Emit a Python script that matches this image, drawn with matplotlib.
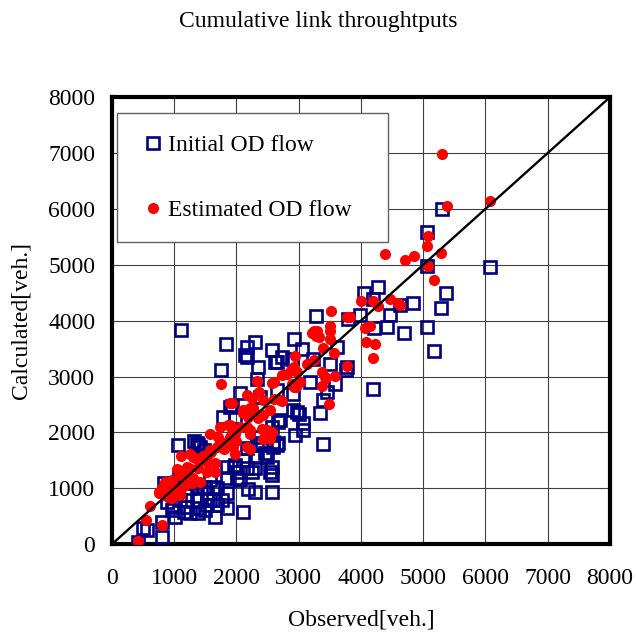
import matplotlib
matplotlib.use('Agg')
import matplotlib.pyplot as plt

plt.rcParams['font.family'] = ['Liberation Serif', 'DejaVu Serif']

# Estimated OD flow (red dots): observed vs calculated
est_obs = [5310, 6070, 5380, 5070, 5060, 5280, 4390, 4700, 4850, 5070,
           5170, 4460, 4620, 4000, 4190, 4280, 3515, 3770, 3825, 3500,
           3500, 3240, 3290, 3215, 3280, 3500, 4070, 4140, 4080, 4220,
           4200, 3390, 3570, 2940, 3240, 3130, 2930, 2980, 2730, 2810,
           3370, 3440, 3580, 3770, 3370, 2890, 3020, 2930, 3480, 1755,
           2330, 2570, 2365, 2170, 2250, 2430, 2600, 2730, 1930, 2220,
           2300, 2110, 2430, 2540, 1870, 1930, 1980, 2170, 2220, 2410,
           2490, 2570, 2430, 2540, 1710, 1740, 1690, 1850, 1950, 1980,
           2170, 2220, 1590, 1520, 1420, 1360, 1310, 1110, 1550, 1660,
           1660, 1520, 1390, 1230, 1040, 1100, 1310, 1420, 1280, 860,
           960, 800, 750, 880, 1100, 960, 615, 550, 800, 420,
           3320, 2870, 3420, 2600, 2700, 4600, 1900, 2110, 2270, 2190,
           2350, 1740, 1900, 2060, 2220, 1580, 1900, 1200, 1470, 1260,
           1580, 830, 750, 1000, 1150, 1800, 2000, 900, 1200, 2960]
est_calc = [6990, 6150, 6050, 5520, 5330, 5220, 5190, 5080, 5160, 4980,
            4720, 4390, 4280, 4350, 4350, 4260, 4170, 4060, 4060, 3900,
            3810, 3810, 3810, 3780, 3720, 3680, 3860, 3900, 3620, 3590,
            3340, 3510, 3420, 3360, 3300, 3230, 3170, 3090, 3020, 3050,
            3080, 2975, 3010, 3180, 2830, 2870, 2900, 2810, 2500, 2860,
            2920, 2890, 2725, 2670, 2610, 2580, 2590, 2560, 2530, 2430,
            2340, 2340, 2310, 2400, 2130, 2070, 1980, 2100, 1980, 2070,
            2040, 2010, 1890, 1890, 1920, 1830, 1740, 1830, 1740, 1620,
            1740, 1710, 1650, 1580, 1500, 1530, 1560, 1580, 1450, 1450,
            1300, 1300, 1360, 1370, 1340, 1240, 1180, 1120, 1090, 1120,
            1150, 1000, 910, 910, 880, 820, 690, 434, 345, 60,
            3710, 3110, 2990, 2900, 2580, 4310, 2520, 2400, 2430, 2280,
            2250, 2100, 2130, 2100, 2040, 1980, 1920, 1390, 1570, 1620,
            1680, 910, 940, 1000, 1050, 1700, 1850, 850, 1200, 2820]

# Initial OD flow (blue squares): observed vs calculated
init_obs = [5300, 5055, 5066, 6072, 4280, 4050, 4200, 4842, 5366, 5280,
            4628, 4467, 3986, 3799, 3280, 4414, 4211, 5056, 4697, 5173,
            4200, 1113, 1835, 2300, 2167, 2140, 2579, 2932, 3050, 2648,
            2354, 1749, 2889, 3237, 3504, 3622, 3772, 3761, 2327, 3183,
            3584, 2916, 3450, 3398, 3344, 2905, 3013, 2702, 3077, 2942,
            3387, 1926, 2568, 2595, 2595, 2461, 2568, 2568, 2113, 2167,
            1980, 2300, 2193, 2300, 2568, 2113, 1846, 1846, 1658, 1685,
            1380, 1059, 1311, 1418, 1070, 829, 909, 1204, 1364, 1525,
            1685, 1204, 963, 1017, 802, 562, 802, 420, 1525, 1578,
            1846, 1846, 2006, 2060, 2167, 2327, 2380, 2327, 2488, 2648,
            1766, 1471, 1257, 1097, 883, 1150, 1391, 2674, 2407, 2247,
            1364, 1471, 1953, 2006, 936, 1043, 1364, 1631, 989, 1525,
            1631, 1250, 1500, 507, 1390, 2541, 2674, 3072, 2969, 2167,
            2621, 2059, 2380, 2648, 1899, 1980, 1792, 2728]
init_calc = [6000, 5580, 4986, 4968, 4611, 4498, 4391, 4320, 4498, 4224,
             4272, 4105, 4105, 4034, 4076, 3885, 3873, 3885, 3778, 3457,
             2785, 3838, 3576, 3618, 3528, 3380, 3469, 3665, 3499, 3261,
             3171, 3124, 3320, 3320, 3231, 3528, 3171, 3124, 2963, 2904,
             2874, 2695, 2725, 2576, 2350, 2398, 2338, 2231, 2172, 1952,
             1785, 2469, 2100, 1833, 1743, 1624, 1386, 1238, 1505, 1357,
             1416, 1357, 982, 940, 928, 577, 910, 643, 494, 702,
             553, 1773, 1845, 1743, 1238, 1089, 970, 881, 791, 910,
             1000, 672, 613, 494, 405, 256, 137, 40, 702, 1148,
             1178, 1386, 1297, 1148, 1714, 1773, 1922, 1565, 1565, 1773,
             791, 1029, 1000, 791, 762, 583, 643, 2190, 1804, 1297,
             1809, 1684, 1386, 1178, 910, 970, 1029, 1029, 672, 791,
             791, 553, 612, 286, 1773, 1297, 1804, 2041, 2368, 3350,
             3261, 2697, 2636, 2756, 2457, 2279, 2279, 3350]

ticks = [0, 1000, 2000, 3000, 4000, 5000, 6000, 7000, 8000]

fig = plt.figure(figsize=(6.36, 6.35), dpi=100)
ax = fig.add_axes([0.176, 0.143, 0.783, 0.704])

ax.plot(init_obs, init_calc, linestyle='none', marker='s', markersize=9.2,
        markerfacecolor='none', markeredgecolor='#000080', markeredgewidth=1.9,
        label='Initial OD flow', zorder=3)
ax.plot(est_obs, est_calc, linestyle='none', marker='o', markersize=8,
        markerfacecolor='#ff0000', markeredgecolor='none',
        label='Estimated OD flow', zorder=4)
ax.plot([0, 8000], [0, 8000], color='black', linewidth=1.7, zorder=5)

ax.set_xlim(0, 8000)
ax.set_ylim(0, 8000)
ax.set_xticks(ticks)
ax.set_yticks(ticks)
ax.grid(True, color='#404040', linewidth=0.8)
ax.set_axisbelow(True)
ax.tick_params(length=0, labelsize=17)
ax.tick_params(axis='x', pad=17)
ax.tick_params(axis='y', pad=12)
for s in ax.spines.values():
    s.set_linewidth(3)
    s.set_color('black')

ax.set_xlabel('Observed[veh.]', fontsize=17, labelpad=15)
ax.set_ylabel('Calculated[veh.]', fontsize=17, labelpad=12)
fig.text(0.5, 0.966, 'Cumulative link throughtputs', ha='center', va='center',
         fontsize=17)

leg = ax.legend(loc='upper left', bbox_to_anchor=(0.01, 0.964, 0.544, 0.0),
                mode='expand', fontsize=17, borderaxespad=0, borderpad=0.9,
                labelspacing=1.85, handlelength=1.25, handletextpad=0.0,
                fancybox=False, framealpha=1, edgecolor='#606060')
leg.get_frame().set_linewidth(1.0)

fig.savefig('out.png', dpi=100)
